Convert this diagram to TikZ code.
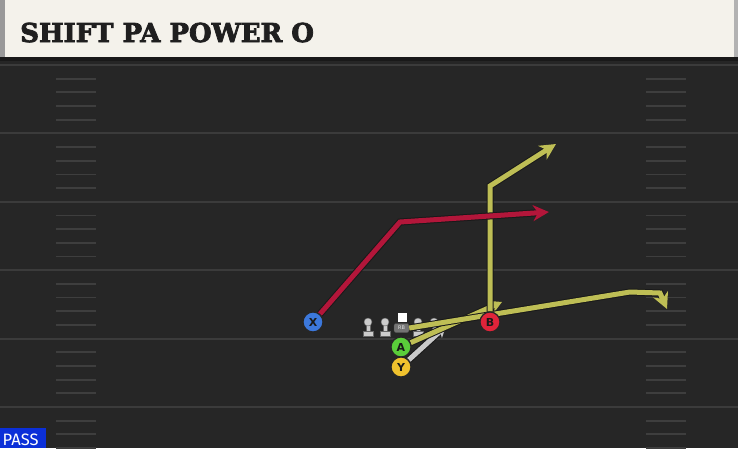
\documentclass[tikz,border=0pt]{standalone}
\usepackage{fontspec}
\usetikzlibrary{arrows.meta}
\font\titlefont="DejaVu Serif/B:embolden=3" at 26pt
\newfontfamily\markfont{DejaVu Sans}
\newfontfamily\tagfont{Fira Sans}

\definecolor{fieldbg}{HTML}{262626}
\definecolor{yardline}{HTML}{3B3B3B}
\definecolor{hashline}{HTML}{3E3E3E}
\definecolor{titlebg}{HTML}{F4F2EB}
\definecolor{redroute}{HTML}{B3163A}
\definecolor{yelroute}{HTML}{BEBE55}
\definecolor{greyroute}{HTML}{C9C9C9}
\definecolor{xblue}{HTML}{3C78DC}
\definecolor{agreen}{HTML}{5ACD3A}
\definecolor{yyellow}{HTML}{F0C22E}
\definecolor{bred}{HTML}{E0243A}
\definecolor{passblue}{HTML}{0B2FD8}

\tikzset{
  player/.style={circle, minimum size=20pt, inner sep=0pt, draw=black!85,
    line width=1.2pt, font=\markfont\bfseries\fontsize{11}{11}\selectfont, text=black!90},
  route/.style={line width=5pt, line join=miter,
    preaction={draw=black!90, line width=7pt}},
  routetip/.style={-{Stealth[length=16pt, width=16pt, inset=5pt]}},
  shorttip/.style={-{Stealth[length=11pt, width=12pt, inset=3pt]}},
  lineman/.style={fill=black!20, draw=black!60, line width=0.4pt},
}

\newcommand{\lineman}[2]{% name, x
  \coordinate (#1) at (#2, 322);
  \draw[lineman] (#2-5, 336) rectangle (#2+5, 331);
  \draw[lineman] (#2-2, 331) rectangle (#2+2, 323);
  \draw[lineman] (#2, 322) circle (4);
}

\begin{document}
\begin{tikzpicture}[x=1pt, y=-1pt]
  %%%%% FIELD %%%%%
  \useasboundingbox (0, 0) rectangle (738, 448);
  \fill[fieldbg] (0, 0) rectangle (738, 448);

  \foreach \yd in {65, 133.4, 201.8, 270.2, 338.6, 407} {
    \draw[yardline, line width=2pt] (0, \yd) -- (738, \yd);
  }
  \foreach \yd in {65, 133.4, 201.8, 270.2, 338.6, 407} {
    \foreach \k in {1, 2, 3, 4} {
      \draw[hashline, line width=1.8pt] (56, \yd+\k*13.68) -- (96, \yd+\k*13.68);
      \draw[hashline, line width=1.8pt] (646, \yd+\k*13.68) -- (686, \yd+\k*13.68);
    }
  }

  %%%%% TITLE %%%%%
  \fill[black!90] (0, 57) rectangle (738, 61);
  \fill[titlebg] (0, 0) rectangle (738, 57);
  \fill[black!40] (0, 0) rectangle (5, 57);
  \fill[black!30] (734, 0) rectangle (738, 57);
  \node[anchor=base west, inner sep=0pt, text=black!88, font=\titlefont] (title)
    at (20, 42) {SHIFT PA POWER O};

  %%%%% LINE %%%%%
  \lineman{lt}{368}
  \lineman{lg}{385}
  \lineman{rg}{418}
  \lineman{rt}{434}
  \fill[white] (397.5, 313) rectangle (406.5, 322);
  \node[draw=black!70, fill=black!55, rounded corners=2pt, minimum width=15pt,
    minimum height=9pt, inner sep=0pt, text=black!10,
    font=\markfont\fontsize{5}{5}\selectfont] (rb) at (401.5, 328) {RB};

  %%%%% ROUTES %%%%%
  \coordinate (xbreak) at (400, 222);
  \coordinate (xend) at (549, 212);
  \coordinate (bbreak) at (490, 186);
  \coordinate (bend) at (556, 144);
  \coordinate (rbbreak) at (630, 292);
  \coordinate (rbturn) at (660, 293);
  \coordinate (rbend) at (667, 309);
  \coordinate (aend) at (502, 302);
  \coordinate (yend) at (446, 326);

  \node[player, fill=xblue] (x) at (313, 322) {X};
  \node[player, fill=agreen] (a) at (401, 347) {A};
  \node[player, fill=yyellow] (y) at (401, 367) {Y};
  \node[player, fill=bred] (b) at (490, 322) {B};

  \draw[route, greyroute, shorttip] (y) -- (yend);
  \draw[route, yelroute, shorttip] (a) -- (aend);
  \draw[route, yelroute, routetip] (rb.east) -- (rbbreak) -- (rbturn) -- (rbend);
  \draw[route, yelroute, routetip] (b) -- (bbreak) -- (bend);
  \draw[route, redroute, routetip] (x) -- (xbreak) -- (xend);

  \node[player, fill=xblue] at (x) {X};
  \node[player, fill=bred] at (b) {B};
  \node[player, fill=agreen] at (a) {A};
  \node[player, fill=yyellow] at (y) {Y};

  %%%%% TAG %%%%%
  \fill[passblue] (0, 428) rectangle (46, 448);
  \node[anchor=base west, inner sep=0pt, text=white,
    font=\tagfont\fontsize{16.5}{16.5}\selectfont] (pass) at (2.5, 445) {PASS};
\end{tikzpicture}
\end{document}
